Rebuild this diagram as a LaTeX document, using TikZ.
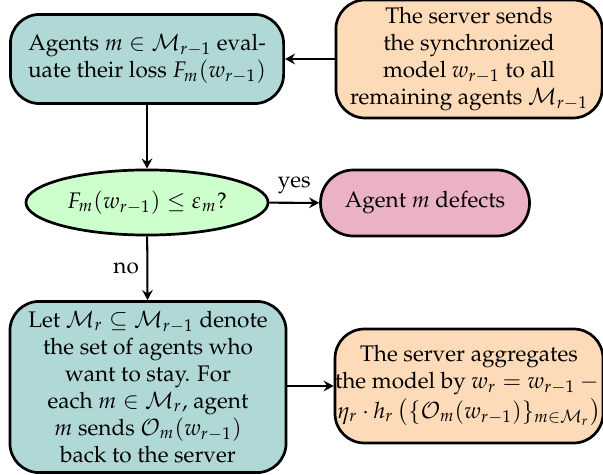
\documentclass[tikz,border=0pt]{standalone}
\usepackage[T1]{fontenc}
\usepackage{mathpazo}
\usepackage{amsmath}
\usepackage{amssymb}
\usepackage{tikz}
\usetikzlibrary{shapes.geometric,arrows.meta}

\definecolor{tealfill}{RGB}{176,216,214}
\definecolor{peachfill}{RGB}{253,218,184}
\definecolor{greenfill}{RGB}{204,255,204}
\definecolor{pinkfill}{RGB}{235,177,196}

\begin{document}
\begin{tikzpicture}[x=0.444pt,y=0.444pt,yscale=-1,xscale=1,
    flowbox/.style={draw,line width=1.2pt,rounded corners=13pt,align=center,inner sep=0pt},
    flowlink/.style={-{Stealth[length=4.5pt,width=4.8pt,inset=1.6pt]},line width=0.9pt}]
            \useasboundingbox (0,0) rectangle (603,475);
            \draw (147,59) node (eval) [flowbox,fill=tealfill,minimum width=121.3pt,minimum height=39.6pt] {Agents $m \in \mathcal{M}_{r-1}$ eval-\\uate their loss $F_m(w_{r-1})$};
            \draw (469,59) node (send) [flowbox,fill=peachfill,minimum width=118.2pt,minimum height=52.4pt] {The server sends\\the synchronized\\model $w_{r-1}$ to all\\remaining agents $\mathcal{M}_{r-1}$};
            \draw (147,202.5) node (check) [ellipse,draw,line width=1.2pt,fill=greenfill,inner sep=0pt,minimum width=107.5pt,minimum height=28.9pt] {$F_m(w_{r-1}) \leq \varepsilon_m$?};
            \draw (425,203) node (defect) [flowbox,fill=pinkfill,rounded corners=14.6pt,minimum width=92.8pt,minimum height=29.3pt] {Agent $m$ defects};
            \draw (148,387) node (stay) [flowbox,fill=tealfill,minimum width=122.6pt,minimum height=76pt] {Let $\mathcal{M}_r \subseteq \mathcal{M}_{r-1}$ denote\\the set of agents who\\want to stay. For\\each $m \in \mathcal{M}_r$, agent\\$m$ sends $\mathcal{O}_m(w_{r-1})$\\back to the server};
            \draw (469,386) node (aggr) [flowbox,fill=peachfill,minimum width=118.2pt,minimum height=50.6pt] {The server aggregates\\the model by $w_r = w_{r-1} -{}$\\[1pt]$\eta_r \cdot h_r \, \bigl(\{\mathcal{O}_m(w_{r-1})\}_{m \in \mathcal{M}_r}\bigr)$};
            \draw [flowlink] (send) -- (eval);
            \draw [flowlink] (eval) -- (check);
            \draw [flowlink] (check) -- node [above] {yes} (defect);
            \draw [flowlink] (check) -- node [left] {no} (stay);
            \draw [flowlink] (stay.east |- aggr.west) -- (aggr);
          \end{tikzpicture}
\end{document}
